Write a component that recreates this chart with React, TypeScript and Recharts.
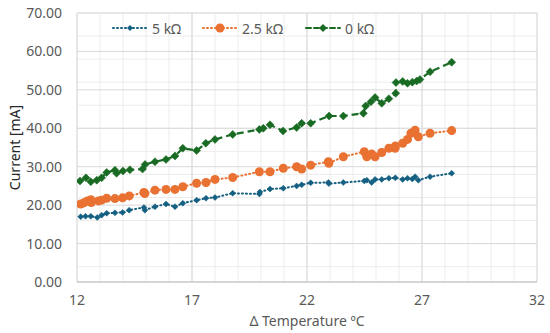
import React from 'react';
import { LineChart, Line, XAxis, YAxis, CartesianGrid } from 'recharts';

const blueX = [12.16, 12.37, 12.6, 12.88, 13.07, 13.29, 13.65, 13.98, 14.27, 14.91, 14.95, 15.39, 15.87, 16.26, 16.6, 17.2, 17.61, 18.0, 18.77, 19.93, 19.95, 20.39, 20.97, 21.55, 21.77, 22.16, 22.93, 22.95, 23.58, 24.49, 24.6, 24.81, 24.96, 25.25, 25.56, 25.84, 26.16, 26.37, 26.58, 26.7, 26.84, 27.35, 28.29];
const blueY = [17.0, 17.1, 17.1, 16.8, 17.4, 17.9, 18.0, 18.1, 18.7, 19.4, 18.7, 19.6, 20.3, 19.6, 20.5, 21.3, 21.8, 22.0, 23.1, 22.9, 23.4, 24.2, 24.4, 25.0, 25.3, 25.8, 25.9, 25.6, 25.9, 26.3, 26.5, 25.9, 26.7, 26.7, 27.0, 27.1, 26.7, 27.0, 26.8, 27.4, 26.5, 27.4, 28.3];

const orangeX = [12.16, 12.3, 12.45, 12.6, 12.62, 12.93, 13.07, 13.29, 13.65, 13.98, 14.27, 14.91, 14.95, 15.39, 15.87, 16.26, 16.6, 17.2, 17.61, 18.0, 18.77, 19.93, 20.39, 20.97, 21.55, 21.77, 22.16, 22.93, 22.95, 23.58, 24.49, 24.6, 24.81, 24.96, 25.25, 25.56, 25.83, 25.84, 26.16, 26.37, 26.52, 26.7, 26.84, 27.35, 28.29];
const orangeY = [20.3, 20.6, 21.1, 21.4, 20.7, 21.1, 21.3, 21.8, 21.7, 21.9, 22.4, 23.3, 23.0, 23.9, 24.1, 24.1, 24.8, 25.7, 25.9, 26.7, 27.2, 28.7, 28.7, 29.6, 30.0, 29.4, 30.4, 31.3, 30.9, 32.6, 33.9, 32.6, 33.3, 32.6, 33.7, 34.8, 34.8, 35.4, 36.1, 37.1, 38.7, 39.5, 37.8, 38.7, 39.4];

const greenX = [12.13, 12.39, 12.6, 12.86, 13.07, 13.29, 13.65, 13.72, 14.0, 14.3, 14.85, 14.96, 15.39, 15.87, 16.26, 16.6, 17.2, 17.6, 18.0, 18.77, 19.93, 20.1, 20.39, 20.96, 21.55, 21.77, 22.16, 22.96, 23.58, 24.45, 24.55, 24.78, 24.96, 25.25, 25.56, 25.86, 25.87, 26.16, 26.37, 26.58, 26.77, 26.91, 27.35, 28.29];
const greenY = [26.3, 27.1, 26.1, 26.5, 27.1, 28.5, 29.1, 28.3, 28.9, 29.2, 29.4, 30.6, 31.3, 31.9, 32.8, 34.8, 34.2, 36.1, 37.1, 38.4, 39.7, 40.0, 40.9, 39.3, 40.2, 41.3, 41.3, 43.2, 43.2, 43.9, 45.8, 46.9, 48.0, 46.5, 47.7, 49.1, 51.9, 52.2, 51.7, 52.0, 52.3, 52.7, 54.7, 57.2];

const seriesNames = ['5 kΩ', '2.5 kΩ', '0 kΩ'];
const xTicks = [12, 17, 22, 27, 32];
const yTicks = [0, 10, 20, 30, 40, 50, 60, 70];
const xMinor = [12, 13, 14, 15, 16, 17, 18, 19, 20, 21, 22, 23, 24, 25, 26, 27, 28, 29, 30, 31, 32];
const yMinor = [0, 2, 4, 6, 8, 10, 12, 14, 16, 18, 20, 22, 24, 26, 28, 30, 32, 34, 36, 38, 40, 42, 44, 46, 48, 50, 52, 54, 56, 58, 60, 62, 64, 66, 68, 70];

const BLUE = '#156082';
const ORANGE = '#E97132';
const GREEN = '#196B24';
const FONT = '"Noto Sans", sans-serif';
const TXT = '#595959';

const toPts = (xs: number[], ys: number[]) => xs.map((x, i) => ({ x, y: ys[i] }));
const blueData = toPts(blueX, blueY);
const orangeData = toPts(orangeX, orangeY);
const greenData = toPts(greenX, greenY);

const diamond = (color: string, r: number) => (props: any) => {
  const { cx, cy, index } = props;
  if (cx == null || cy == null) return <g key={`d${index}`} />;
  return (
    <path
      key={`d${index}`}
      d={`M${cx},${cy - r} L${cx + r},${cy} L${cx},${cy + r} L${cx - r},${cy} Z`}
      fill={color}
      stroke={color}
      strokeWidth={0.5}
    />
  );
};

const LegendItem = ({ left, color, dash, marker, label }: any) => (
  <div style={{ position: 'absolute', left, top: 19, display: 'flex', alignItems: 'center', height: 18 }}>
    <svg width={36} height={18}>
      <line x1={1} y1={9} x2={35} y2={9} stroke={color} strokeWidth={2} strokeDasharray={dash} strokeLinecap="round" />
      {marker === 'circle' ? (
        <circle cx={18} cy={9} r={4.5} fill={color} />
      ) : (
        <path d={`M18,${9 - (marker === 'big' ? 4 : 3)} L${18 + (marker === 'big' ? 4 : 3)},9 L18,${9 + (marker === 'big' ? 4 : 3)} L${18 - (marker === 'big' ? 4 : 3)},9 Z`} fill={color} />
      )}
    </svg>
    <span style={{ marginLeft: 4, fontFamily: FONT, fontSize: 14, color: TXT, whiteSpace: 'nowrap' }}>{label}</span>
  </div>
);

export default function App() {
  return (
    <div style={{ position: 'absolute', left: 0, top: 0, width: 550, height: 333, background: '#fff' }}>
      <LineChart width={550} height={333} margin={{ top: 13, right: 13, bottom: 0, left: 0 }}>
        <CartesianGrid stroke="#ececec" verticalValues={xMinor} horizontalValues={yMinor} strokeWidth={1} />
        <CartesianGrid stroke="#d9d9d9" verticalValues={xTicks} horizontalValues={yTicks} strokeWidth={1} />
        <XAxis
          type="number"
          dataKey="x"
          domain={[12, 32]}
          ticks={xTicks}
          allowDataOverflow
          height={51}
          tickSize={0}
          tickMargin={13}
          stroke="#bfbfbf"
          tick={{ fill: TXT, fontSize: 14, fontFamily: FONT }}
          label={{ value: 'Δ Temperature ºC', position: 'insideBottom', offset: 7, fill: TXT, fontSize: 14, fontFamily: FONT }}
        />
        <YAxis
          type="number"
          dataKey="y"
          domain={[0, 70]}
          ticks={yTicks}
          width={77}
          tickSize={0}
          tickMargin={15}
          axisLine={false}
          tickFormatter={(v: number) => v.toFixed(2)}
          tick={{ fill: TXT, fontSize: 14, fontFamily: FONT }}
          label={{ value: 'Current [mA]', angle: -90, position: 'insideLeft', offset: 15, fill: '#262626', fontSize: 14, fontFamily: FONT, style: { textAnchor: 'middle' } }}
        />
        <Line
          data={blueData}
          dataKey="y"
          name={seriesNames[0]}
          stroke={BLUE}
          strokeWidth={2}
          strokeDasharray="1 3"
          strokeLinecap="round"
          dot={diamond(BLUE, 3)}
          activeDot={false}
          isAnimationActive={false}
        />
        <Line
          data={orangeData}
          dataKey="y"
          name={seriesNames[1]}
          stroke={ORANGE}
          strokeWidth={2}
          strokeDasharray="1 3"
          strokeLinecap="round"
          dot={{ r: 4.5, fill: ORANGE, stroke: ORANGE, strokeWidth: 0 }}
          activeDot={false}
          isAnimationActive={false}
        />
        <Line
          data={greenData}
          dataKey="y"
          name={seriesNames[2]}
          stroke={GREEN}
          strokeWidth={2.2}
          strokeDasharray="7 4"
          dot={diamond(GREEN, 4)}
          activeDot={false}
          isAnimationActive={false}
        />
      </LineChart>
      <LegendItem left={112} color={BLUE} dash="1 3" marker="small" label={seriesNames[0]} />
      <LegendItem left={202} color={ORANGE} dash="1 3" marker="circle" label={seriesNames[1]} />
      <LegendItem left={305} color={GREEN} dash="5 3" marker="big" label={seriesNames[2]} />
    </div>
  );
}
